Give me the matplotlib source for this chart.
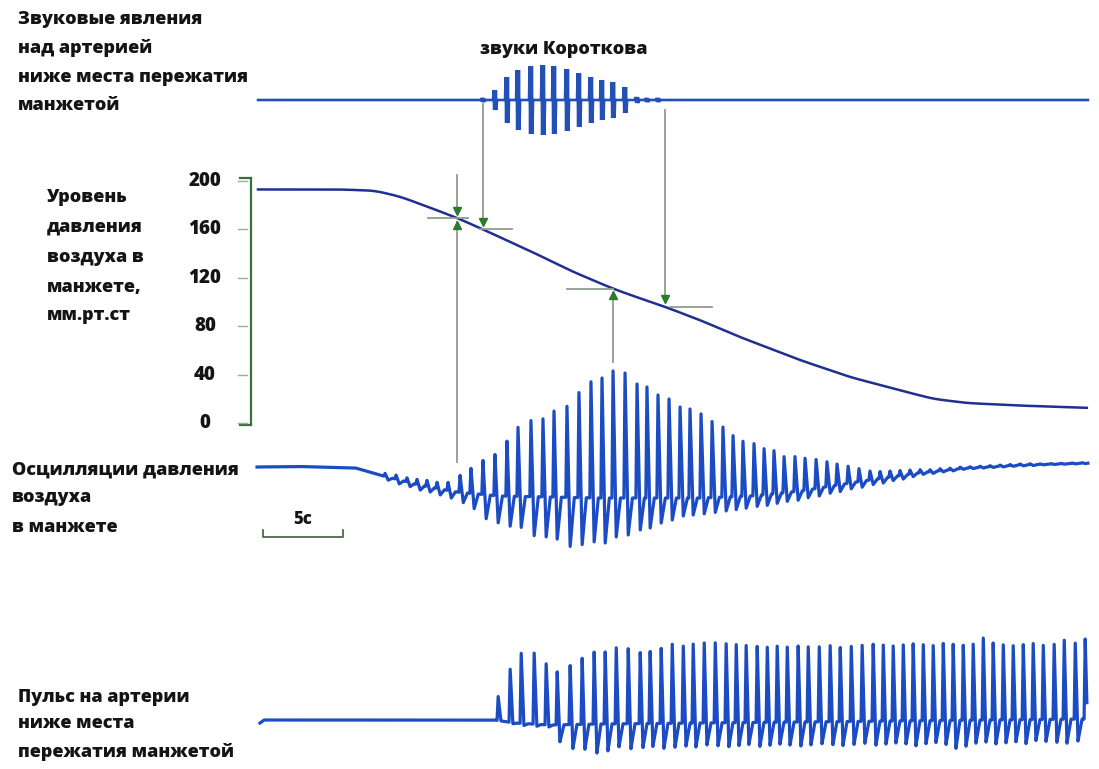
import numpy as np
import matplotlib
matplotlib.use('Agg')
import matplotlib.pyplot as plt

plt.rcParams['font.family'] = ['Open Sans', 'DejaVu Sans']

W, H, DPI = 1099, 769, 100
PX_PER_S = 16.0      # 5 s scale bar = 80 px
X0 = 258             # px where recording starts (t = 0)

# ---------------- data ----------------
# heart beats (s)
beat_t = [7.94, 8.63, 9.31, 9.94, 10.56, 11.19, 11.88, 12.63, 13.31, 14.06,
          14.81, 15.56, 16.25, 17.06, 17.81, 18.50, 19.31, 20.06, 20.81, 21.50,
          22.19, 22.94, 23.69, 24.31, 25.00, 25.69, 26.38, 27.00, 27.69, 28.38,
          29.06, 29.69, 30.31, 31.00, 31.63, 32.25, 32.88, 33.56, 34.19, 34.88,
          35.56, 36.19, 36.88, 37.56, 38.25, 38.88, 39.50, 40.13, 40.75, 41.38,
          42.00, 42.63, 43.25, 43.88, 44.50, 45.13, 45.75, 46.38, 47.00, 47.63,
          48.25, 48.88, 49.56, 50.19, 50.88, 51.50]

# Korotkoff sounds amplitude per beat
sound_amp = [0, 0, 0, 0, 0, 0, 0, 0, 0, 2,
             10, 23, 30, 34, 35, 34, 31, 27, 23, 20,
             18, 13, 3, 2, 2, 0, 0, 0, 0, 0,
             0, 0, 0, 0, 0, 0, 0, 0, 0, 0,
             0, 0, 0, 0, 0, 0, 0, 0, 0, 0,
             0, 0, 0, 0, 0, 0, 0, 0, 0, 0,
             0, 0, 0, 0, 0, 0]

# cuff pressure, mm Hg
press_t = [0, 5.1, 7.3, 8.9, 10.75, 12.44, 14.06, 17.19, 19.69, 22.19, 23.88, 25.44,
           27.63, 30.13, 33.88, 37.0, 40.13, 42.19, 44.31, 47.44, 51.81]
press_v = [193, 193, 192, 187, 178, 169.5, 160, 141, 125, 111, 103, 96,
           85, 71, 52, 38, 27, 20, 16.5, 14.5, 12.5]
press_ticks = [0, 40, 80, 120, 160, 200]

# cuff pressure oscillations (relative units)
osc_base_t = [0, 2.6, 6.1, 7.6, 10.1, 12.4, 15.1, 21.4, 27.6, 30.8, 33.9, 37.0, 41.2, 44.3, 47.6, 51.9]
osc_base_v = [0, 0.5, -1, -8, -18, -25, -29, -31, -31, -29, -24, -16, -6, -1, 2, 4]
osc_peak = [3, 4, 4, 5, 6, 6, 8, 17, 25, 34,
            41, 55, 69, 76, 78, 86, 91, 105, 116, 120,
            127, 125, 114, 111, 103, 99, 91, 89, 84, 76,
            70, 61, 55, 52, 46, 43, 36, 35, 32, 29,
            25, 21, 17, 13, 9, 7, 6, 5, 4, 3,
            2, 2, 1.5, 1.5, 1, 1, 1, 1, 1, 1,
            1, 0.5, 0.5, 0.5, 0.5, 0.5]
osc_trough = [3, 4, 4, 5, 5, 6, 7, 10, 15, 24,
              27, 30, 31, 39, 40, 42, 49, 47, 44, 45,
              39, 37, 32, 30, 25, 22, 18, 17, 16, 15,
              14, 13, 12, 11, 11, 10, 9, 9, 8, 8,
              7, 7, 6, 6, 5, 5, 4, 4, 3, 2,
              2, 1.5, 1.5, 1, 1, 1, 1, 1, 1, 1,
              1, 0.5, 0.5, 0.5, 0.5, 0.5]

# arterial pulse distal to cuff (relative units)
pulse_delay = 0.2
pulse_base_t = [0.13, 0.38, 14.8, 16.06, 18.25, 21.38, 33.88, 51.81]
pulse_base_v = [-3, 0, 0, -3, -5, -4, -2, 1]
pulse_peak = [0, 0, 0, 0, 0, 0, 0, 0, 0, 0,
              24, 53, 70, 71, 61, 53, 59, 66, 72, 72,
              76, 75, 71, 72, 75, 79, 77, 79, 80, 80,
              79, 78, 77, 76, 75, 76, 75, 76, 75, 75,
              76, 74, 75, 76, 77, 76, 75, 76, 77, 76,
              75, 77, 76, 75, 76, 82, 77, 75, 74, 75,
              76, 74, 75, 79, 76, 80]
pulse_trough = [0, 0, 0, 0, 0, 0, 0, 0, 0, 0,
                0, 1, 2, 2, 2, 17, 24, 25, 29, 27,
                23, 25, 24, 23, 25, 24, 23, 24, 22, 23,
                24, 23, 22, 24, 23, 22, 23, 24, 23, 22,
                23, 24, 23, 22, 24, 23, 22, 23, 25, 23,
                22, 24, 28, 26, 23, 22, 24, 23, 22, 24,
                21, 22, 23, 24, 22, 23]

# events marked by arrows (s): oscillometric systolic, 1st Korotkoff, max oscillation, last Korotkoff
ev_osc_sys = 12.44
ev_k_first = 14.06
ev_osc_max = 22.19
ev_k_last = 25.44

# ---------------- styles ----------------
C_TRACE = '#1c4cc4'
C_PRESS = '#1f3090'
C_SOUND = '#2250b6'
C_AXIS = '#3b6e3b'
C_ARROW = '#8e9d8e'
C_HEAD = '#2c7a2c'
C_TICK = '#a5a5a5'
C_TEXT = '#141414'
FS = 13
FW = 'heavy'


def t_of_px(px):
    return (px - X0) / PX_PER_S


fig = plt.figure(figsize=(W / DPI, H / DPI), dpi=DPI)
fig.patch.set_facecolor('white')


def overlay(y_ref):
    ax = fig.add_axes([0, 0, 1, 1])
    ax.set_xlim(t_of_px(0), t_of_px(W))
    ax.set_ylim(y_ref - H, y_ref)
    ax.axis('off')
    ax.patch.set_visible(False)
    return ax


def beat_trace(times, peaks, troughs, base_t, base_v, t0, t1, rise, fall, rec):
    kt, kv = [], []
    for tb, p, d in zip(times, peaks, troughs):
        if p == 0 and d == 0:
            continue
        kt += [tb - rise, tb, tb + fall, tb + rec]
        kv += [0, p, -d, 0]
    grid = np.union1d(np.arange(t0, t1, 0.01), np.array(kt))
    grid = grid[(grid >= t0) & (grid <= t1)]
    off = np.interp(grid, kt, kv, left=0, right=0) if kt else np.zeros_like(grid)
    base = np.interp(grid, base_t, base_v)
    return grid, base + off


# ---------- text axes (pixel coordinates) ----------
ax_txt = fig.add_axes([0, 0, 1, 1])
ax_txt.set_xlim(0, W)
ax_txt.set_ylim(H, 0)
ax_txt.axis('off')
ax_txt.patch.set_visible(False)

labels = [
    (18, 20, 'Звуковые явления'), (18, 48, 'над артерией'),
    (18, 77, 'ниже места пережатия'), (18, 105, 'манжетой'),
    (47, 197, 'Уровень'), (47, 227, 'давления'), (47, 257, 'воздуха в'),
    (47, 287, 'манжете,'), (47, 316, 'мм.рт.ст'),
    (12, 470, 'Осцилляции давления'), (12, 498, 'воздуха'), (12, 527, 'в манжете'),
    (18, 697, 'Пульс на артерии'), (18, 724, 'ниже места'), (18, 752, 'пережатия манжетой'),
]
for x, y, s in labels:
    ax_txt.text(x, y, s, ha='left', va='center', fontsize=FS, fontweight=FW, color=C_TEXT)
ax_txt.text(564, 50, 'звуки Короткова', ha='center', va='center', fontsize=FS,
            fontweight=FW, color=C_TEXT)

# ---------- sounds ----------
ax_s = overlay(100)
kt, kv = [], []
zz = [0, 1, -1, 1, -1, 1, -1, 0]
for tb, a in zip(beat_t, sound_amp):
    if a == 0:
        continue
    for j, z in enumerate(zz):
        kt.append(tb - 0.12 + j * 0.035)
        kv.append(a * z)
tg = np.union1d(np.arange(0, t_of_px(1088), 0.01), np.array(kt))
ax_s.plot(tg, np.interp(tg, kt, kv, left=0, right=0), color=C_SOUND, lw=1.9,
          solid_joinstyle='miter')

# ---------- pressure ----------
pl, pb, pr, ptop = 251, 425, W, 178
ax_p = fig.add_axes([pl / W, (H - pb) / H, (pr - pl) / W, (pb - ptop) / H])
ax_p.patch.set_visible(False)
k = 1.21  # px per mm Hg
ax_p.set_xlim(t_of_px(pl), t_of_px(pr))
ax_p.set_ylim((423 - pb) / k, (423 - ptop) / k)
for sp in ['top', 'right', 'bottom']:
    ax_p.spines[sp].set_visible(False)
ax_p.spines['left'].set_color(C_AXIS)
ax_p.spines['left'].set_linewidth(1.6)
ax_p.set_xticks([])
ax_p.set_yticks([])
ylo, yhi = ax_p.get_ylim()
xl = t_of_px(pl)
ax_p.plot([t_of_px(240), xl], [yhi, yhi], color=C_AXIS, lw=1.6, clip_on=False)
ax_p.plot([t_of_px(240), xl], [ylo, ylo], color=C_AXIS, lw=1.6, clip_on=False)
for v in press_ticks:
    ax_p.plot([t_of_px(238), t_of_px(247)], [v, v], color=C_TICK, lw=1.0, clip_on=False)
    ax_p.text(t_of_px(205), v, str(v), ha='center', va='center', fontsize=FS + 0.5,
              fontweight=FW, color=C_TEXT, clip_on=False)

tp = np.arange(0, press_t[-1] + 0.001, 0.02)
pv = np.interp(tp, press_t, press_v)
win = 61
pad = np.concatenate([np.full(win // 2, pv[0]), pv, np.full(win // 2, pv[-1])])
pv_s = np.convolve(pad, np.ones(win) / win, mode='valid')
ax_p.plot(tp, pv_s, color=C_PRESS, lw=1.8, clip_on=False)


def p_at(t):
    return float(np.interp(t, tp, pv_s))


def varrow(t, y_from, y_tip, down):
    ax_p.plot([t, t], [y_from, y_tip], color=C_ARROW, lw=1.3, clip_on=False)
    ax_p.plot([t], [y_tip + (2.5 if down else -2.5) / k], marker='v' if down else '^',
              ms=6, color=C_HEAD, mec=C_HEAD, clip_on=False, ls='none')


def hline(t, dx0, dx1):
    p = p_at(t)
    ax_p.plot([t + dx0 / PX_PER_S, t + dx1 / PX_PER_S], [p, p], color=C_ARROW, lw=1.3,
              clip_on=False)


sound_base_p = (423 - 104) / k
# oscillometric systolic
pa = p_at(ev_osc_sys)
varrow(ev_osc_sys, (423 - 175) / k, pa + 5 / k, True)
varrow(ev_osc_sys, (423 - 462) / k, pa - 4 / k, False)
hline(ev_osc_sys, -29, 11)
# first Korotkoff sound
pb_ = p_at(ev_k_first)
varrow(ev_k_first, sound_base_p, pb_ + 5 / k, True)
hline(ev_k_first, -3, 29)
# max oscillation
pc = p_at(ev_osc_max)
varrow(ev_osc_max, (423 - 362) / k, pc - 4 / k, False)
hline(ev_osc_max, -46, 0)
# last Korotkoff sound
pd = p_at(ev_k_last)
varrow(ev_k_last, (423 - 110) / k, pd + 5 / k, True)
hline(ev_k_last, 5, 47)

# ---------- oscillations ----------
ax_o = overlay(467)
to, yo = beat_trace(beat_t, osc_peak, osc_trough, osc_base_t, osc_base_v,
                    t_of_px(257), t_of_px(1088), 0.07, 0.2, 0.46)
ax_o.plot(to, yo, color=C_TRACE, lw=2.3)
# 5 s scale bar
sb0 = t_of_px(263)
ax_o.plot([sb0, sb0, sb0 + 5, sb0 + 5], [-63, -70, -70, -63], color='#4d6b4d', lw=1.3)
ax_o.text(sb0 + 2.5, -53, '5с', ha='center', va='center', fontsize=FS - 1,
          fontweight=FW, color=C_TEXT)

# ---------- pulse ----------
ax_u = overlay(720)
pt = [b + pulse_delay for b in beat_t]
tu, yu = beat_trace(pt, pulse_peak, pulse_trough, pulse_base_t, pulse_base_v,
                    t_of_px(260), t_of_px(1087), 0.07, 0.17, 0.42)
ax_u.plot(tu, yu, color=C_TRACE, lw=2.3)

fig.savefig('out.png', dpi=DPI, facecolor='white')
